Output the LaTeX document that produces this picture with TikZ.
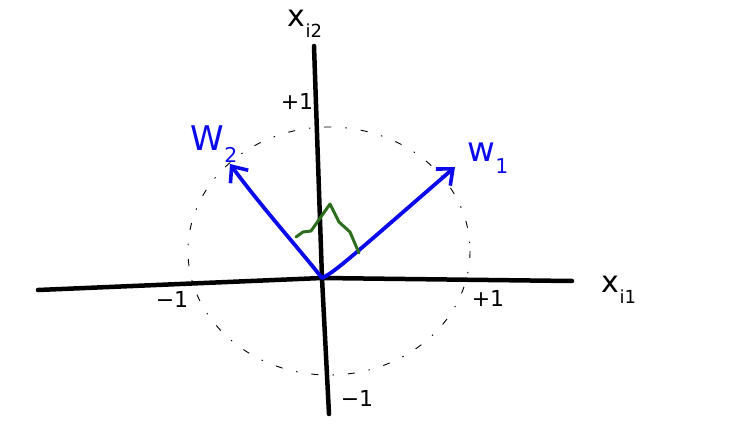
\documentclass[tikz,border=0pt]{standalone}
\usepackage{fontspec}
\setmainfont{DejaVu Sans}
\usetikzlibrary{arrows.meta}
\definecolor{pen}{RGB}{10,10,235}
\definecolor{leaf}{RGB}{45,110,30}
\newcommand{\sbs}[2]{#1\raisebox{-0.35em}{\fontsize{0.6em}{0.7em}\selectfont #2}}
\tikzset{
  axis/.style={line width=4.5pt, line cap=round},
  vec/.style={pen, line width=3.8pt, line cap=round, -{Straight Barb[length=13pt,width=22pt,line width=3.6pt]}},
  unitcircle/.style={line width=0.9pt, dash pattern=on 7pt off 14pt on 1.5pt off 14pt},
  rightmark/.style={leaf, line width=3pt, line cap=round, line join=round},
  lab/.style={font=\fontsize{30}{32}\selectfont, inner sep=0pt},
  tick/.style={font=\fontsize{22}{24}\selectfont, inner sep=0pt},
  vlab/.style={pen, font=\fontsize{34}{36}\selectfont, inner sep=0pt}
}
\begin{document}
\begin{tikzpicture}[x=1pt,y=-1pt]
\useasboundingbox (0,0) rectangle (744,444);
% dashed unit circle
\draw[unitcircle] (329,251) ellipse [x radius=141, y radius=124];
% axes
\coordinate (O) at (322,278);
\coordinate (xl) at (38,290);
\coordinate (xr) at (572,281);
\coordinate (yt) at (314,46);
\coordinate (yb) at (329,414);
\draw[axis] (xl) -- (O) -- (xr);
\draw[axis] (yt) -- (O) -- (yb);
% vectors
\coordinate (w1) at (455,167);
\coordinate (w2) at (230,164);
\draw[vec] (O) .. controls (335,272) and (350,258) .. (w1);
\draw[vec] (O) .. controls (300,250) and (260,205) .. (w2);
% right angle mark
\coordinate (g1) at (296,237);
\coordinate (g2) at (330,204);
\coordinate (g3) at (359,253);
\draw[rightmark] (g1) -- (303,232) -- (311,231) -- (g2) -- (339,222) -- (350,232) -- (g3);
% labels
\node[lab] (lx2) at (305,24) {\sbs{x}{i2}};
\node[lab] (lx1) at (619,290) {\sbs{x}{i1}};
\node[tick] (tp1) at (297,101) {+1};
\node[tick] (tm1) at (172,299) {−1};
\node[tick] (tpr) at (488,298) {+1};
\node[tick] (tmb) at (357,398) {−1};
\node[vlab] (lw1) at (488,158) {\sbs{w}{1}};
\node[vlab] (lw2) at (214,144) {\sbs{W}{2}};
\end{tikzpicture}
\end{document}
